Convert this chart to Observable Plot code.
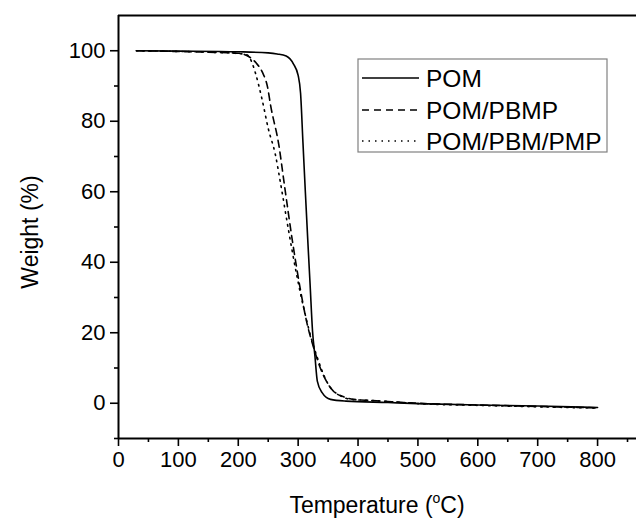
<!DOCTYPE html>
<html><head><meta charset="utf-8">
<script src="https://cdn.jsdelivr.net/npm/d3@7"></script>
<script src="https://cdn.jsdelivr.net/npm/@observablehq/plot@0.6"></script>
<style>body{margin:0;background:#fff} svg{display:block}</style>
</head><body><div id="chart"></div>
<script>
// ---- data ----
const seriesNames = ["POM", "POM/PBMP", "POM/PBM/PMP"];

const tempPOM   = [30, 100, 200, 250, 265, 280, 292, 300, 304, 308, 312, 316, 320, 324, 328, 332, 340, 354, 380, 450, 500, 600, 700, 800];
const weightPOM = [100, 99.9, 99.7, 99.4, 99.1, 98.5, 96.3, 93, 88, 74, 60, 46.5, 33.5, 20.5, 13.4, 6.3, 3.0, 1.1, 0.6, 0.2, -0.1, -0.5, -0.8, -1.2];

const tempPBMP   = [30, 100, 150, 200, 218, 230, 240, 249, 254, 268, 277, 290, 304, 315, 326, 337, 348, 359, 375, 393, 420, 450, 500, 600, 700, 800];
const weightPBMP = [100, 99.8, 99.6, 99.3, 98.3, 96.5, 94, 89.6, 84.5, 73, 62, 46.5, 32, 22.5, 15.7, 10, 6, 3.4, 1.9, 1.1, 0.8, 0.5, 0, -0.5, -0.9, -1.3];

const tempPBMPMP   = [30, 100, 150, 200, 215, 222, 229, 240, 250, 262, 270, 284, 298, 310, 320, 334, 344, 354, 370, 387, 420, 450, 500, 600, 700, 800];
const weightPBMPMP = [100, 99.8, 99.6, 99.2, 98.8, 97, 93.5, 86, 78, 70.5, 63, 49, 36, 26.5, 19.6, 12, 7.5, 4.4, 2.2, 1.1, 0.8, 0.5, -0.1, -0.6, -1.0, -1.4];

const xMajorTicks = [0, 100, 200, 300, 400, 500, 600, 700, 800];
const xMinorTicks = [50, 150, 250, 350, 450, 550, 650, 750, 850];
const yMajorTicks = [0, 20, 40, 60, 80, 100];
const yMinorTicks = [-10, 10, 30, 50, 70, 90];

// ---- chart ----
const toRows = (t, w) => t.map((x, i) => ({t: x, w: w[i]}));
const font = "'Liberation Sans', Arial, Helvetica, sans-serif";
const dashes = [null, "7,5", "1.5,5"];
const series = [toRows(tempPOM, weightPOM), toRows(tempPBMP, weightPBMP), toRows(tempPBMPMP, weightPBMPMP)];

const chart = Plot.plot({
  width: 636, height: 520,
  marginTop: 15, marginBottom: 82, marginLeft: 118, marginRight: 0,
  style: {fontFamily: font, fontSize: "22px", color: "#000", background: "#fff"},
  x: {domain: [0, 865]},
  y: {domain: [-10, 110]},
  marks: [
    Plot.axisX({ticks: xMajorTicks, tickSize: 8, tickPadding: 5, label: null, fontSize: 22, strokeWidth: 1.6, tickFormat: d => String(d)}),
    Plot.axisX({ticks: xMinorTicks, tickSize: 4, text: null, label: null, strokeWidth: 1.6}),
    Plot.axisY({ticks: yMajorTicks, tickSize: 8, tickPadding: 5, label: null, fontSize: 22, strokeWidth: 1.6, tickFormat: d => String(d)}),
    Plot.axisY({ticks: yMinorTicks, tickSize: 4, text: null, label: null, strokeWidth: 1.6}),
    Plot.ruleX([0], {stroke: "#000", strokeWidth: 2}),
    Plot.ruleY([-10], {stroke: "#000", strokeWidth: 2}),
    Plot.ruleY([110], {stroke: "#000", strokeWidth: 2}),
    ...series.map((rows, i) => Plot.line(rows, {
      x: "t", y: "w", stroke: "#000", strokeWidth: 1.6, curve: "monotone-x",
      strokeDasharray: dashes[i] || undefined
    }))
  ]
});
document.getElementById("chart").appendChild(chart);

// ---- legend and axis titles ----
const svg = d3.select(chart);
const lg = svg.append("g").attr("font-family", font).attr("font-size", 24.5).attr("text-anchor", "start");
lg.append("rect").attr("x", 358).attr("y", 59).attr("width", 249).attr("height", 93)
  .attr("fill", "#fff").attr("stroke", "#808080").attr("stroke-width", 1.2);
const rowY = [78, 110, 141];
seriesNames.forEach((name, i) => {
  lg.append("line").attr("x1", 362).attr("x2", 419).attr("y1", rowY[i]).attr("y2", rowY[i])
    .attr("stroke", "#000").attr("stroke-width", 1.5)
    .attr("stroke-dasharray", dashes[i]);
  lg.append("text").attr("x", 426).attr("y", rowY[i]).attr("dy", "0.36em")
    .attr("text-anchor", "start").text(name);
});

const xt = svg.append("text").attr("x", 377).attr("y", 505).attr("dy", "0.36em")
  .attr("text-anchor", "middle").attr("font-family", font).attr("font-size", 23);
xt.append("tspan").text("Temperature (");
xt.append("tspan").attr("font-size", 14).attr("dy", "-0.75em").text("o");
xt.append("tspan").attr("dy", "0.45em").text("C)");

svg.append("text").attr("transform", "translate(30,232) rotate(-90)")
  .attr("text-anchor", "middle").attr("dy", "0.36em")
  .attr("font-family", font).attr("font-size", 23).text("Weight (%)");
</script>
</body></html>
